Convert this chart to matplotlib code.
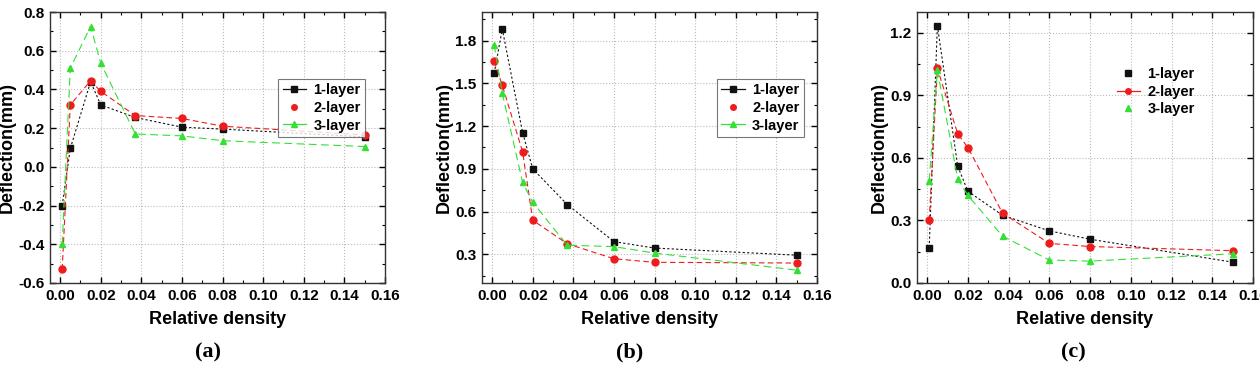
import matplotlib
matplotlib.use("Agg")
import matplotlib.pyplot as plt
from matplotlib.lines import Line2D
from matplotlib.ticker import MultipleLocator, FuncFormatter

# ---- data ----
density = [0.001, 0.005, 0.015, 0.02, 0.037, 0.06, 0.08, 0.15]
series_names = ["1-layer", "2-layer", "3-layer"]

a_1layer = [-0.20, 0.095, 0.44, 0.32, 0.255, 0.205, 0.195, 0.155]
a_2layer = [-0.53, 0.32, 0.445, 0.39, 0.265, 0.25, 0.21, 0.165]
a_3layer = [-0.40, 0.51, 0.725, 0.535, 0.17, 0.16, 0.135, 0.105]

b_1layer = [1.57, 1.88, 1.155, 0.90, 0.65, 0.39, 0.345, 0.295]
b_2layer = [1.655, 1.485, 1.02, 0.54, 0.375, 0.27, 0.245, 0.24]
b_3layer = [1.77, 1.43, 0.805, 0.665, 0.365, 0.355, 0.31, 0.19]

c_1layer = [0.17, 1.235, 0.56, 0.44, 0.325, 0.25, 0.21, 0.10]
c_2layer = [0.30, 1.03, 0.715, 0.65, 0.335, 0.19, 0.175, 0.155]
c_3layer = [0.49, 1.02, 0.50, 0.42, 0.225, 0.11, 0.105, 0.14]

x_ticks = [0.00, 0.02, 0.04, 0.06, 0.08, 0.10, 0.12, 0.14, 0.16]
panel_labels = ["(a)", "(b)", "(c)"]

# ---- style ----
colors = ["#111111", "#ee1c1c", "#33e033"]
markers = ["s", "o", "^"]
linestyles = [(0, (2, 2)), (0, (5, 3)), (0, (7, 4))]

plt.rcParams['font.family'] = ['Liberation Sans', 'DejaVu Sans']
fig = plt.figure(figsize=(12.6, 3.71), dpi=100)

panels = [
    dict(data=[a_1layer, a_2layer, a_3layer], left=50, width=335, ylim=(-0.6, 0.8),
         major=0.2, minor=0.1, legend_pos=(0.66, 0.78), leg_lines=[True, False, True],
         frame=True, cap_x=208),
    dict(data=[b_1layer, b_2layer, b_3layer], left=482, width=335, ylim=(0.1, 2.0),
         major=0.3, minor=0.15, legend_pos=(0.68, 0.78), leg_lines=[True, False, True],
         frame=True, cap_x=630),
    dict(data=[c_1layer, c_2layer, c_3layer], left=917, width=336, ylim=(0.0, 1.3),
         major=0.3, minor=0.15, legend_pos=(0.56, 0.84), leg_lines=[False, True, False],
         frame=False, cap_x=1073),
]

W, H = 1260, 371
for i, p in enumerate(panels):
    ax = fig.add_axes([p["left"] / W, (H - 283) / H, p["width"] / W, 271 / H])
    for s, vals in enumerate(p["data"]):
        ax.plot(density, vals, color=colors[s], marker=markers[s], markersize=5,
                linestyle=linestyles[s], linewidth=0.8, zorder=3)
    ax.set_xlim(-0.005, 0.16)
    ax.set_ylim(*p["ylim"])
    ax.set_xticks(x_ticks)
    ax.set_xticklabels([f"{t:.2f}" for t in x_ticks])
    ax.xaxis.set_minor_locator(MultipleLocator(0.01))
    ax.yaxis.set_major_locator(MultipleLocator(p["major"]))
    ax.yaxis.set_minor_locator(MultipleLocator(p["minor"]))
    ax.yaxis.set_major_formatter(FuncFormatter(lambda v, pos: f"{v:.1f}"))
    ax.tick_params(which="both", direction="in", top=True, right=True)
    ax.tick_params(which="major", length=4, width=1, labelsize=11, pad=4)
    ax.tick_params(which="minor", length=2, width=0.8)
    for lab in ax.get_xticklabels() + ax.get_yticklabels():
        lab.set_fontweight("bold")
    for sp in ax.spines.values():
        sp.set_linewidth(1.0)
        sp.set_color("#333333")
    ax.grid(True, which="major", color="#bbbbbb", linestyle=":", linewidth=0.8, zorder=0)
    ax.set_xlabel("Relative density", fontsize=13, fontweight="bold", labelpad=6)
    ax.set_ylabel("Deflection(mm)", fontsize=13, fontweight="bold", labelpad=2)

    handles = []
    for s in range(3):
        handles.append(Line2D([], [], color=colors[s], marker=markers[s], markersize=4,
                              linestyle="-" if p["leg_lines"][s] else "None", linewidth=0.9))
    leg = ax.legend(handles, series_names, loc="upper left", bbox_to_anchor=p["legend_pos"],
                    frameon=p["frame"], fancybox=False, handlelength=1.6, handletextpad=0.5,
                    borderpad=0.3, labelspacing=0.25, prop=dict(weight="bold", size=10.5))
    if p["frame"]:
        leg.get_frame().set_edgecolor("#555555")
        leg.get_frame().set_linewidth(0.8)

    fig.text(p["cap_x"] / W, 1 - 352 / H, panel_labels[i], ha="center", va="center",
             fontsize=16, fontweight="bold", family="Liberation Serif")

fig.savefig("out.png", dpi=100)
